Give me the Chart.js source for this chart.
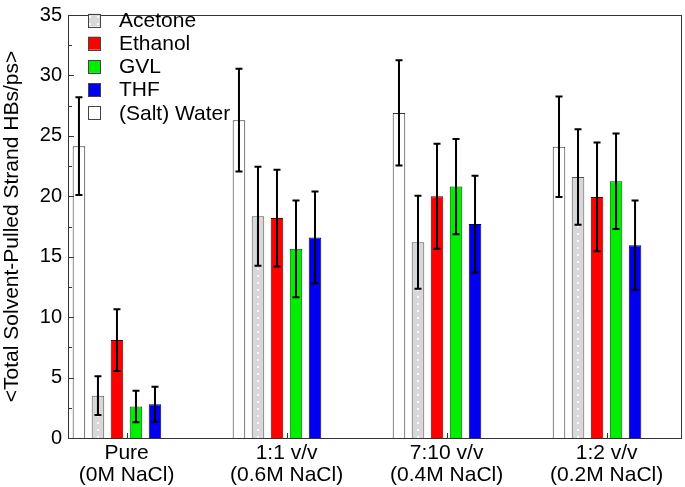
<!DOCTYPE html>
<html>
<head>
<meta charset="utf-8">
<script src="https://cdn.jsdelivr.net/npm/chart.js@4/dist/chart.umd.min.js"></script>
<style>
  html, body { margin: 0; padding: 0; background: #fff; }
  #wrap { width: 685px; height: 487px; }
</style>
</head>
<body>
<div id="wrap"><canvas id="c" width="685" height="487"></canvas></div>
<script>
// ---- Data ----
const categories = ['Pure', '1:1 v/v', '7:10 v/v', '1:2 v/v'];
const subLabels = ['(0M NaCl)', '(0.6M NaCl)', '(0.4M NaCl)', '(0.2M NaCl)'];
const yTicksMajor = [0, 5, 10, 15, 20, 25, 30, 35];

const water      = [24.15, 26.3, 26.9, 24.1];
const waterErr   = [4.05, 4.25, 4.35, 4.15];
const acetone    = [3.5, 18.35, 16.2, 21.6];
const acetoneErr = [1.6, 4.1, 3.85, 3.95];
const ethanol    = [8.1, 18.2, 20.0, 19.95];
const ethanolErr = [2.55, 4.0, 4.35, 4.5];
const gvl        = [2.6, 15.65, 20.8, 21.25];
const gvlErr     = [1.3, 4.0, 3.95, 3.95];
const thf        = [2.8, 16.6, 17.7, 15.95];
const thfErr     = [1.45, 3.8, 4.0, 3.7];

const legendOrder = ['Acetone', 'Ethanol', 'GVL', 'THF', '(Salt) Water'];
const FONT = "'Liberation Sans', Arial, Helvetica, sans-serif";

// dotted gray pattern for acetone
function makePattern() {
  const p = document.createElement('canvas');
  p.width = 8; p.height = 7;
  const g = p.getContext('2d');
  g.fillStyle = '#d8d8d8';
  g.fillRect(0, 0, 8, 7);
  g.fillStyle = '#f8f8f8';
  g.fillRect(1, 2, 2, 2);
  return document.getElementById('c').getContext('2d').createPattern(p, 'repeat');
}
const acetonePattern = makePattern();

function pts(arr) { return arr.map((v, i) => ({ x: i, y: v })); }

const datasets = [
  { label: '(Salt) Water', data: pts(water), err: waterErr, backgroundColor: '#ffffff', borderColor: '#333333' },
  { label: 'Acetone', data: pts(acetone), err: acetoneErr, backgroundColor: acetonePattern, borderColor: '#555555' },
  { label: 'Ethanol', data: pts(ethanol), err: ethanolErr, backgroundColor: '#ff0000', borderColor: '#550000' },
  { label: 'GVL', data: pts(gvl), err: gvlErr, backgroundColor: '#00ee00', borderColor: '#004400' },
  { label: 'THF', data: pts(thf), err: thfErr, backgroundColor: '#0000ee', borderColor: '#000044' }
].map(d => Object.assign(d, { borderWidth: 1, categoryPercentage: 0.594, barPercentage: 0.66 }));

const frameAndDecor = {
  id: 'frameAndDecor',
  afterDatasetsDraw(chart) {
    const ctx = chart.ctx;
    const ca = chart.chartArea;
    const ys = chart.scales.y, xs = chart.scales.x;
    ctx.save();
    // error bars
    ctx.strokeStyle = '#000';
    ctx.lineWidth = 2;
    chart.data.datasets.forEach((ds, di) => {
      const meta = chart.getDatasetMeta(di);
      meta.data.forEach((bar, i) => {
        const v = ds.data[i].y, e = ds.err[i];
        const x = bar.x;
        const yt = ys.getPixelForValue(v + e);
        const yb = ys.getPixelForValue(v - e);
        ctx.beginPath();
        ctx.moveTo(x, yt); ctx.lineTo(x, yb);
        ctx.moveTo(x - 3.5, yt); ctx.lineTo(x + 3.5, yt);
        ctx.moveTo(x - 3.5, yb); ctx.lineTo(x + 3.5, yb);
        ctx.stroke();
      });
    });
    // frame
    ctx.strokeStyle = '#333';
    ctx.lineWidth = 1;
    ctx.strokeRect(Math.round(ca.left) + 0.5, Math.round(ca.top) + 0.5,
                   Math.round(ca.right - ca.left) - 1, Math.round(ca.bottom - ca.top));
    // inward y ticks
    ctx.beginPath();
    ys.ticks.forEach(t => {
      const y = Math.round(ys.getPixelForValue(t.value)) + 0.5;
      const len = (t.value % 5 === 0) ? 6 : 4;
      ctx.moveTo(ca.left, y); ctx.lineTo(ca.left + len, y);
    });
    // inward x ticks
    xs.ticks.forEach(t => {
      const x = Math.round(xs.getPixelForValue(t.value)) + 0.5;
      ctx.moveTo(x, ca.bottom); ctx.lineTo(x, ca.bottom - 5);
    });
    ctx.stroke();
    // legend
    const byLabel = {};
    chart.data.datasets.forEach(d => byLabel[d.label] = d);
    ctx.font = '21px ' + FONT;
    ctx.textBaseline = 'middle';
    ctx.textAlign = 'left';
    legendOrder.forEach((lab, k) => {
      const d = byLabel[lab];
      const cy = 20 + k * 23.2;
      const bx = 88, bw = 12, bh = 13;
      ctx.fillStyle = d.backgroundColor;
      ctx.fillRect(bx, cy - bh / 2, bw, bh);
      ctx.strokeStyle = '#444';
      ctx.lineWidth = 1;
      ctx.strokeRect(bx + 0.5, Math.round(cy - bh / 2) + 0.5, bw, bh);
      ctx.fillStyle = '#000';
      ctx.fillText(lab, 119, cy + 1);
    });
    ctx.restore();
  }
};

new Chart(document.getElementById('c'), {
  type: 'bar',
  data: { datasets },
  options: {
    responsive: false,
    animation: false,
    devicePixelRatio: 1,
    layout: { padding: { top: 9, right: 3, left: 0, bottom: 0 } },
    plugins: { legend: { display: false }, tooltip: { enabled: false } },
    scales: {
      x: {
        type: 'linear',
        offset: false,
        min: -0.306,
        max: 3.531,
        grid: { display: false, drawTicks: false, offset: false },
        border: { display: false },
        afterBuildTicks(scale) {
          scale.ticks = categories.map((c, i) => ({ value: i + 0.06 }));
        },
        afterFit(scale) { scale.height = 49; },
        ticks: {
          autoSkip: false,
          maxRotation: 0,
          padding: 4,
          color: '#000',
          font: { family: FONT, size: 21, lineHeight: 1.05 },
          callback(value, index) { return [categories[index], subLabels[index]]; }
        }
      },
      y: {
        min: 0,
        max: 35,
        grid: { display: false, drawTicks: false },
        border: { display: false },
        afterFit(scale) { scale.width = 68; },
        ticks: {
          stepSize: 2.5,
          autoSkip: false,
          padding: 6,
          color: '#000',
          font: { family: FONT, size: 20, lineHeight: 0.9 },
          callback(value) { return yTicksMajor.includes(value) ? String(value) : ''; }
        },
        title: {
          display: true,
          text: '<Total Solvent-Pulled Strand HBs/ps>',
          color: '#000',
          padding: 0,
          font: { family: FONT, size: 21 }
        }
      }
    }
  },
  plugins: [frameAndDecor]
});
</script>
</body>
</html>
